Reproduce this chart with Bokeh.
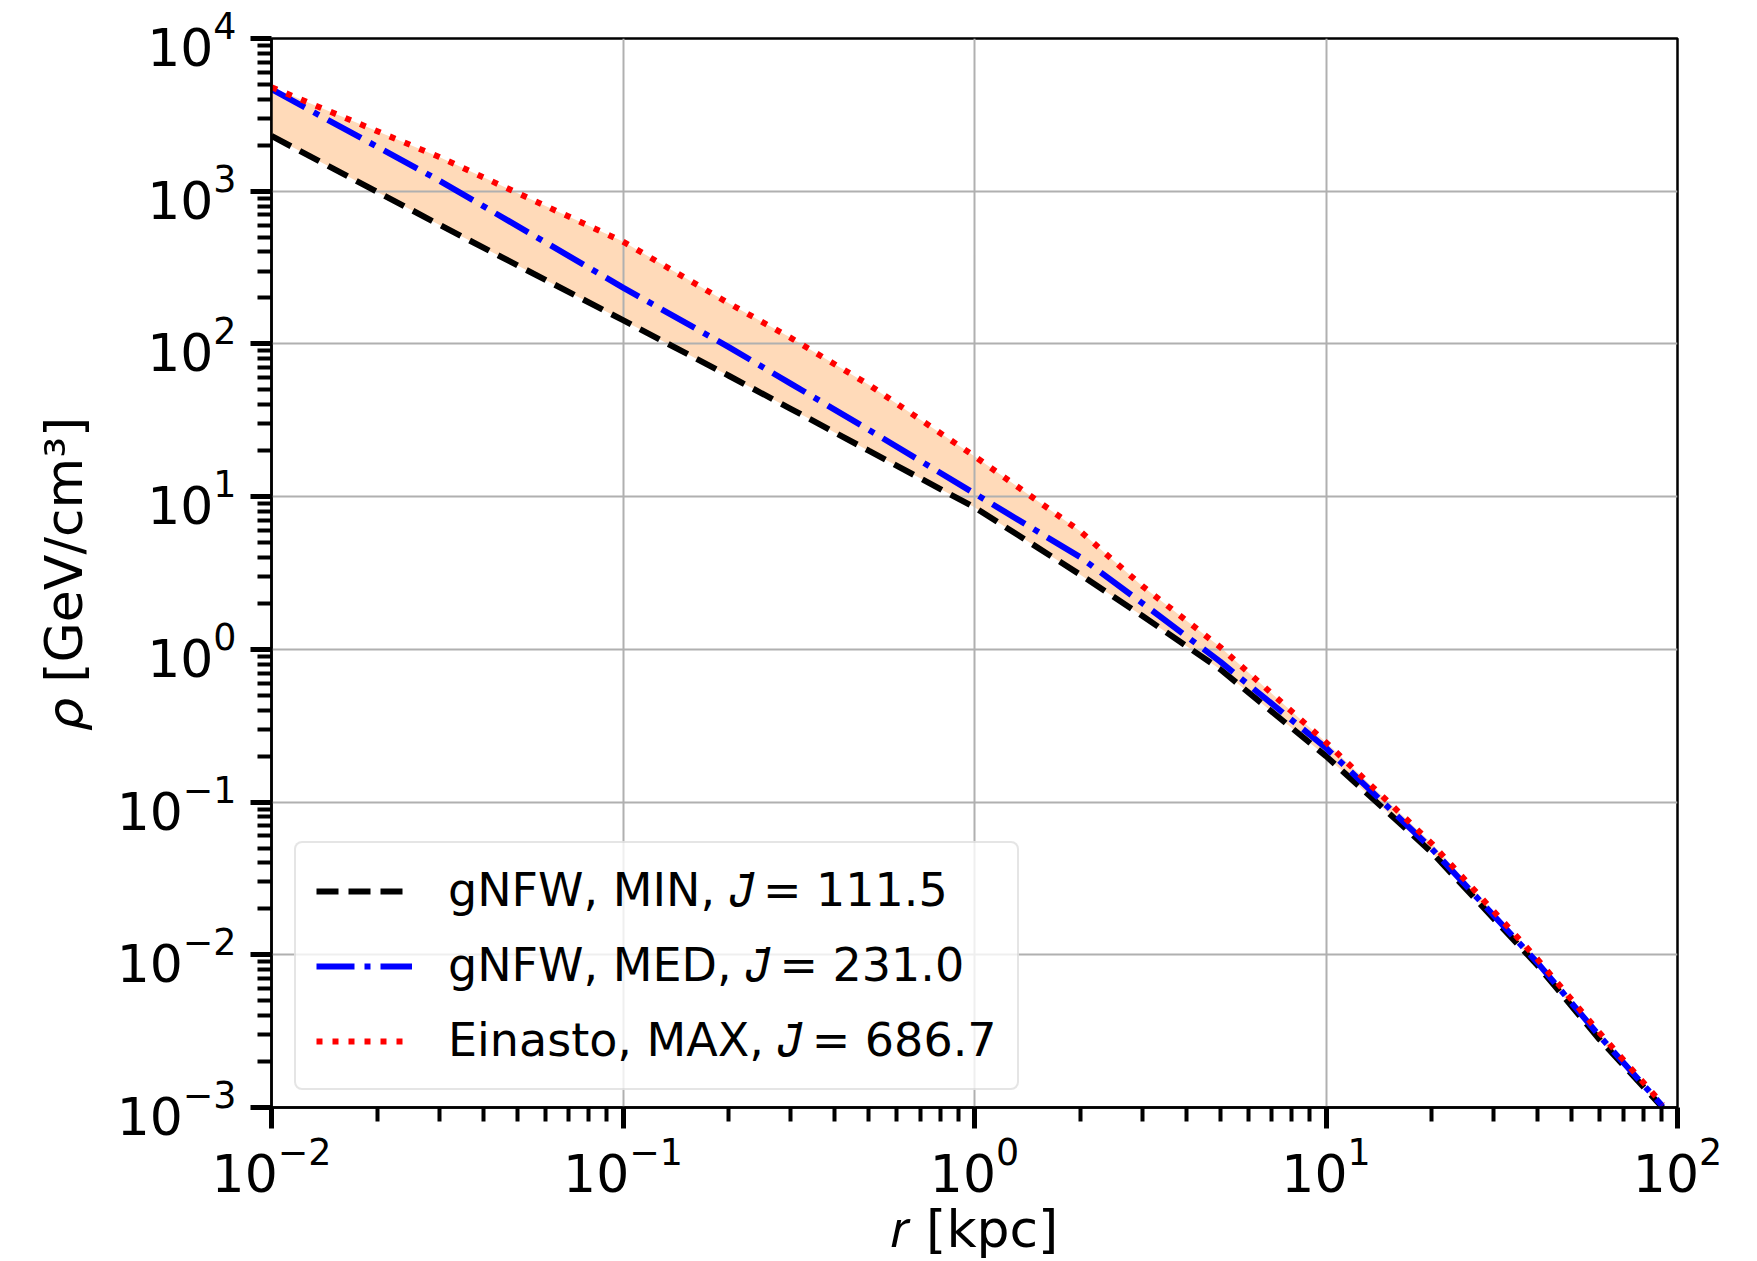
from bokeh.plotting import figure
from bokeh.models import Legend, LegendItem, FixedTicker, ColumnDataSource
from bokeh.embed import file_html
from bokeh.resources import INLINE

# ---- data ----
r_kpc = [0.01, 0.03, 0.1, 0.2, 0.3, 0.5, 1, 2, 3, 5, 10, 20, 40, 60, 90.7]
rho_gnfw_min = [2300, 604, 143, 61.9, 37.6, 20.0, 8.51, 3.08, 1.66, 0.741,
                0.200, 0.0468, 0.00851, 0.00279, 0.00100]
rho_gnfw_med = [4656, 1175, 234, 95.3, 55.0, 27.4, 10.5, 4.01, 2.01, 0.832,
                0.226, 0.0494, 0.00885, 0.00294, 0.00102]
rho_einasto_max = [4797, 1675, 468, 184.5, 109.6, 54.1, 18.4, 5.93, 2.60, 1.035,
                   0.246, 0.0535, 0.00933, 0.00309, 0.00105]
series_labels = ["gNFW, MIN, \U0001D43D\u0304\u2009= 111.5",
                 "gNFW, MED, \U0001D43D\u0304\u2009= 231.0",
                 "Einasto, MAX, \U0001D43D\u0304\u2009= 686.7"]
x_major = [1e-2, 1e-1, 1e0, 1e1, 1e2]
y_major = [1e-3, 1e-2, 1e-1, 1e0, 1e1, 1e2, 1e3, 1e4]

FONT = "DejaVu Sans"

src = ColumnDataSource(dict(r=r_kpc, lo=rho_gnfw_min, med=rho_gnfw_med, hi=rho_einasto_max))

p = figure(width=1757, height=1261, x_axis_type="log", y_axis_type="log",
           x_range=(1e-2, 1e2), y_range=(1e-3, 1e4),
           output_backend="svg", toolbar_location=None,
           min_border_left=271, min_border_right=80,
           min_border_top=38, min_border_bottom=149)

band = p.varea(x="r", y1="lo", y2="hi", source=src, fill_color="#FFDAB9", fill_alpha=1.0)
band.level = "image"

l_min = p.line("r", "lo", source=src, line_color="black", line_width=6, line_dash="22 10")
l_med = p.line("r", "med", source=src, line_color="blue", line_width=6, line_dash="38 10 6 10")
l_max = p.line("r", "hi", source=src, line_color="red", line_width=6, line_dash="6 10")

x_minor = [m * 10.0 ** e for e in range(-2, 2) for m in range(2, 10)]
y_minor = [m * 10.0 ** e for e in range(-3, 4) for m in range(2, 10)]
p.xaxis.ticker = FixedTicker(ticks=x_major, minor_ticks=x_minor)
p.yaxis.ticker = FixedTicker(ticks=y_major, minor_ticks=y_minor)

for ax in (p.xaxis[0], p.yaxis[0]):
    ax.axis_line_width = 2.5
    ax.axis_line_color = "black"
    ax.major_tick_in = 0
    ax.major_tick_out = 21
    ax.minor_tick_in = 0
    ax.minor_tick_out = 14
    ax.major_tick_line_width = 5
    ax.minor_tick_line_width = 4
    ax.major_tick_line_color = "black"
    ax.minor_tick_line_color = "black"
    ax.major_label_text_font = FONT
    ax.major_label_text_font_size = "52px"
    ax.major_label_text_color = "black"
    ax.axis_label_text_font = FONT
    ax.axis_label_text_font_size = "52px"
    ax.axis_label_text_font_style = "normal"
    ax.axis_label_text_color = "black"

p.xaxis.axis_label = "\U0001D45F [kpc]"
p.yaxis.axis_label = "\U0001D70C [GeV/cm\u00b3]"
p.xaxis.major_label_standoff = 8
p.yaxis.major_label_standoff = 14
p.xaxis.axis_label_standoff = 4
p.yaxis.axis_label_standoff = 20

p.grid.grid_line_color = "#b0b0b0"
p.grid.grid_line_width = 2
p.outline_line_color = "black"
p.outline_line_width = 2.5
p.background_fill_color = "white"
p.border_fill_color = "white"

legend = Legend(items=[LegendItem(label=series_labels[0], renderers=[l_min]),
                       LegendItem(label=series_labels[1], renderers=[l_med]),
                       LegendItem(label=series_labels[2], renderers=[l_max])],
                location=(23, 17))
legend.label_text_font = FONT
legend.label_text_font_size = "46px"
legend.label_text_color = "black"
legend.glyph_width = 96
legend.glyph_height = 54
legend.label_standoff = 36
legend.spacing = 20
legend.padding = 20
legend.margin = 0
legend.border_line_color = "#cccccc"
legend.border_line_width = 2.5
legend.background_fill_color = "white"
legend.background_fill_alpha = 0.8
if "border_radius" in Legend.properties():
    legend.border_radius = 8
p.add_layout(legend)

open("out.html", "w").write(file_html(p, INLINE))
